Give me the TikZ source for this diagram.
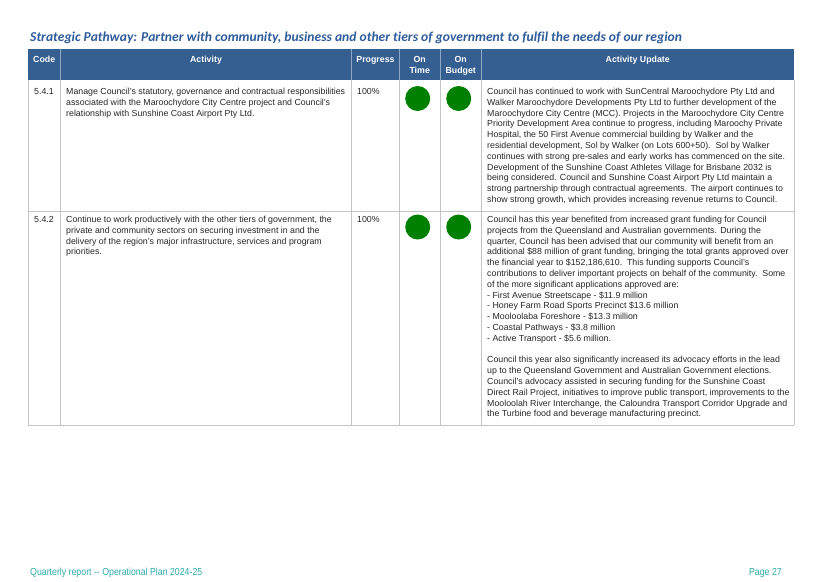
\documentclass[tikz,border=0pt]{standalone}
\usepackage{fontspec}
\setmainfont{Liberation Sans}
\newfontfamily\titlefont[Ligatures=NoCommon]{Carlito}
\newfontfamily\footfont[FakeStretch=0.86]{Liberation Sans}
\definecolor{headblue}{RGB}{54,95,145}
\definecolor{titleblue}{RGB}{46,92,155}
\definecolor{rulegray}{RGB}{196,196,196}
\definecolor{dotgreen}{RGB}{0,128,0}
\definecolor{footteal}{RGB}{45,170,170}
\begin{document}
\begin{tikzpicture}[x=1pt,y=-1pt,
  head/.style={text=white,font=\bfseries\fontsize{8.8}{10.8}\selectfont,align=center,anchor=north,inner sep=0pt},
  cell/.style={font=\fontsize{8.8}{10.8}\selectfont,text=black!85,align=left,anchor=north west,inner sep=0pt},
  dot/.style={circle,fill=dotgreen,minimum size=25pt,inner sep=0pt}]
\useasboundingbox (0,0) rectangle (821,581);

% title
\node[anchor=base west,inner sep=0pt,text=titleblue,font=\titlefont\bfseries\itshape\fontsize{13.6}{16}\selectfont]
  (title) at (30,41) {Strategic Pathway: Partner with community, business and other tiers of government to fulfil the needs of our region};

% table frame
\fill[headblue] (28,48.5) rectangle (794,79.5);
\foreach \x in {60.5,351.5,399.5,440,481.5}
  \draw[headblue!55!white] (\x,48.5) -- (\x,79.5);
\foreach \x in {28,60.5,351.5,399.5,440,481.5,794}
  \draw[rulegray] (\x,79.5) -- (\x,425);
\foreach \y in {211,425}
  \draw[rulegray] (28,\y) -- (794,\y);

% header
\node[head] (hcode) at (44.2,56) {Code};
\node[head] (hact) at (206,56) {Activity};
\node[head] (hprog) at (375.5,56) {Progress};
\node[head] (htime) at (419.7,56) {On\\Time};
\node[head] (hbudget) at (460.7,56) {On\\Budget};
\node[head] (hupd) at (637.7,56) {Activity Update};

% row 5.4.1
\node[cell] (code1) at (34,88) {5.4.1};
\node[cell] (act1) at (66,88) {Manage Council's statutory, governance and contractual responsibilities\\
associated with the Maroochydore City Centre project and Council's\\
relationship with Sunshine Coast Airport Pty Ltd.};
\node[cell] (prog1) at (357,88) {100\%};
\node[dot] (time1) at (417.7,98.5) {};
\node[dot] (budget1) at (458.7,98.5) {};
\node[cell] (upd1) at (487,88) {Council has continued to work with SunCentral Maroochydore Pty Ltd and\\
Walker Maroochydore Developments Pty Ltd to further development of the\\
Maroochydore City Centre (MCC). Projects in the Maroochydore City Centre\\
Priority Development Area continue to progress, including Maroochy Private\\
Hospital, the 50 First Avenue commercial building by Walker and the\\
residential development, Sol by Walker (on Lots 600+50).\ \ Sol by Walker\\
continues with strong pre-sales and early works has commenced on the site.\\
Development of the Sunshine Coast Athletes Village for Brisbane 2032 is\\
being considered. Council and Sunshine Coast Airport Pty Ltd maintain a\\
strong partnership through contractual agreements. The airport continues to\\
show strong growth, which provides increasing revenue returns to Council.};

% row 5.4.2
\node[cell] (code2) at (34,216) {5.4.2};
\node[cell] (act2) at (66,216) {Continue to work productively with the other tiers of government, the\\
private and community sectors on securing investment in and the\\
delivery of the region's major infrastructure, services and program\\
priorities.};
\node[cell] (prog2) at (357,216) {100\%};
\node[dot] (time2) at (417.7,227) {};
\node[dot] (budget2) at (458.7,227) {};
\node[cell] (upd2) at (487,216) {Council has this year benefited from increased grant funding for Council\\
projects from the Queensland and Australian governments. During the\\
quarter, Council has been advised that our community will benefit from an\\
additional \$88 million of grant funding, bringing the total grants approved over\\
the financial year to \$152,186,610.\ \ This funding supports Council's\\
contributions to deliver important projects on behalf of the community.\ \ Some\\
of the more significant applications approved are:\\
- First Avenue Streetscape - \$11.9 million\\
- Honey Farm Road Sports Precinct \$13.6 million\\
- Mooloolaba Foreshore - \$13.3 million\\
- Coastal Pathways - \$3.8 million\\
- Active Transport - \$5.6 million.\\[10.8pt]
Council this year also significantly increased its advocacy efforts in the lead\\
up to the Queensland Government and Australian Government elections.\\
Council's advocacy assisted in securing funding for the Sunshine Coast\\
Direct Rail Project, initiatives to improve public transport, improvements to the\\
Mooloolah River Interchange, the Caloundra Transport Corridor Upgrade and\\
the Turbine food and beverage manufacturing precinct.};

% footer
\node[anchor=base west,inner sep=0pt,text=footteal,font=\footfont\fontsize{10.2}{12}\selectfont]
  (foot) at (30,575) {Quarterly report -- Operational Plan 2024-25};
\node[anchor=base east,inner sep=0pt,text=footteal,font=\footfont\fontsize{10.2}{12}\selectfont]
  (page) at (782,575) {Page 27};
\end{tikzpicture}
\end{document}
